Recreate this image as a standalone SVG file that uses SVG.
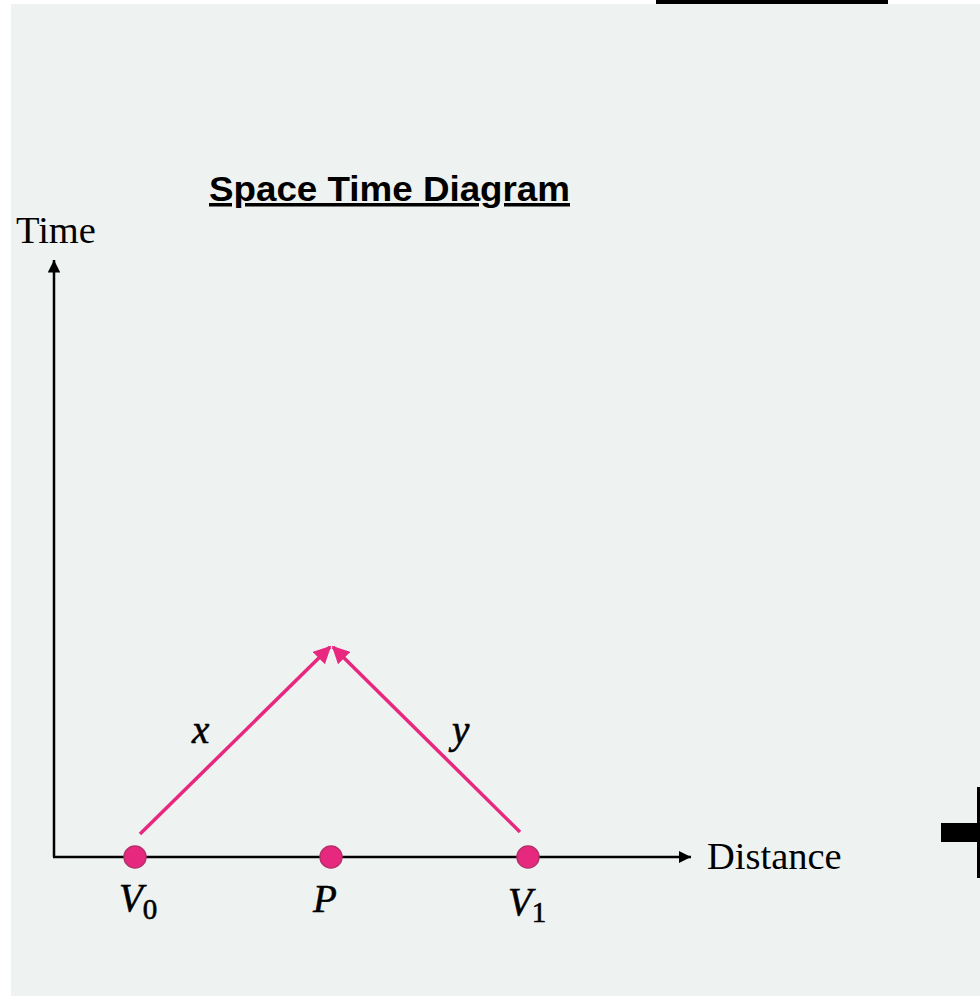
<svg xmlns="http://www.w3.org/2000/svg" width="980" height="998" viewBox="0 0 980 998">
<style>
.serif{font-family:"Liberation Serif","Times New Roman",serif;font-size:38.5px;fill:#000}
.math{font-family:"Liberation Serif","Times New Roman",serif;font-style:italic;font-size:39px;fill:#000;stroke:#000;stroke-width:0.6}
.sub{font-style:normal;font-size:29px}
.axis{stroke:#000;stroke-width:2.5;fill:none}
.ray{stroke:#E8287F;stroke-width:3.5;fill:none}
.dot{fill:#E6287E;stroke:#B8306A;stroke-width:1.5}
</style>
<defs>
<marker id="ah" viewBox="0 0 10 10" refX="10" refY="5" markerWidth="5" markerHeight="5" orient="auto" markerUnits="strokeWidth">
<path d="M0,0 L10,5 L0,10 z" fill="#000"/>
</marker>
<marker id="ahp" viewBox="0 0 10 10" refX="9" refY="5" markerWidth="5" markerHeight="5" orient="auto" markerUnits="strokeWidth">
<path d="M0,0 L10,5 L0,10 z" fill="#E8287F"/>
</marker>
</defs>
<rect x="0" y="0" width="980" height="998" fill="#fff"/>
<rect x="11" y="4" width="969" height="992" fill="#EEF2F1"/>
<rect x="656" y="0" width="232" height="4" fill="#000"/>
<rect x="977" y="787" width="3" height="91" fill="#000"/>
<rect x="941" y="823" width="39" height="19" fill="#000"/>
<g id="title">
<text x="209" y="201" font-family="Liberation Sans,Arial,sans-serif" font-weight="bold" font-size="35" text-decoration="underline" textLength="361" lengthAdjust="spacingAndGlyphs" fill="#000">Space Time Diagram</text>
</g>
<g id="connectors">
<line class="axis" x1="54" y1="857" x2="54" y2="260" marker-end="url(#ah)"/>
<line class="axis" x1="53" y1="857" x2="691" y2="857" marker-end="url(#ah)"/>
<line class="ray" x1="140" y1="834" x2="330" y2="647" marker-end="url(#ahp)"/>
<line class="ray" x1="520" y1="832" x2="333" y2="647" marker-end="url(#ahp)"/>
</g>
<g id="time-label"><text class="serif" x="16" y="243">Time</text></g>
<g id="distance-label"><text class="serif" x="707" y="869">Distance</text></g>
<g id="V0">
<circle class="dot" cx="135" cy="857" r="11"/>
<text class="math" x="119" y="911">V<tspan class="sub" dy="8">0</tspan></text>
</g>
<g id="P">
<circle class="dot" cx="331" cy="857" r="11"/>
<text class="math" x="313" y="912">P</text>
</g>
<g id="V1">
<circle class="dot" cx="528" cy="857" r="11"/>
<text class="math" x="508" y="915">V<tspan class="sub" dy="7">1</tspan></text>
</g>
<g id="label-x"><text class="math" x="192" y="743" font-size="42">x</text></g>
<g id="label-y"><text class="math" x="452" y="743" font-size="42">y</text></g>
</svg>
